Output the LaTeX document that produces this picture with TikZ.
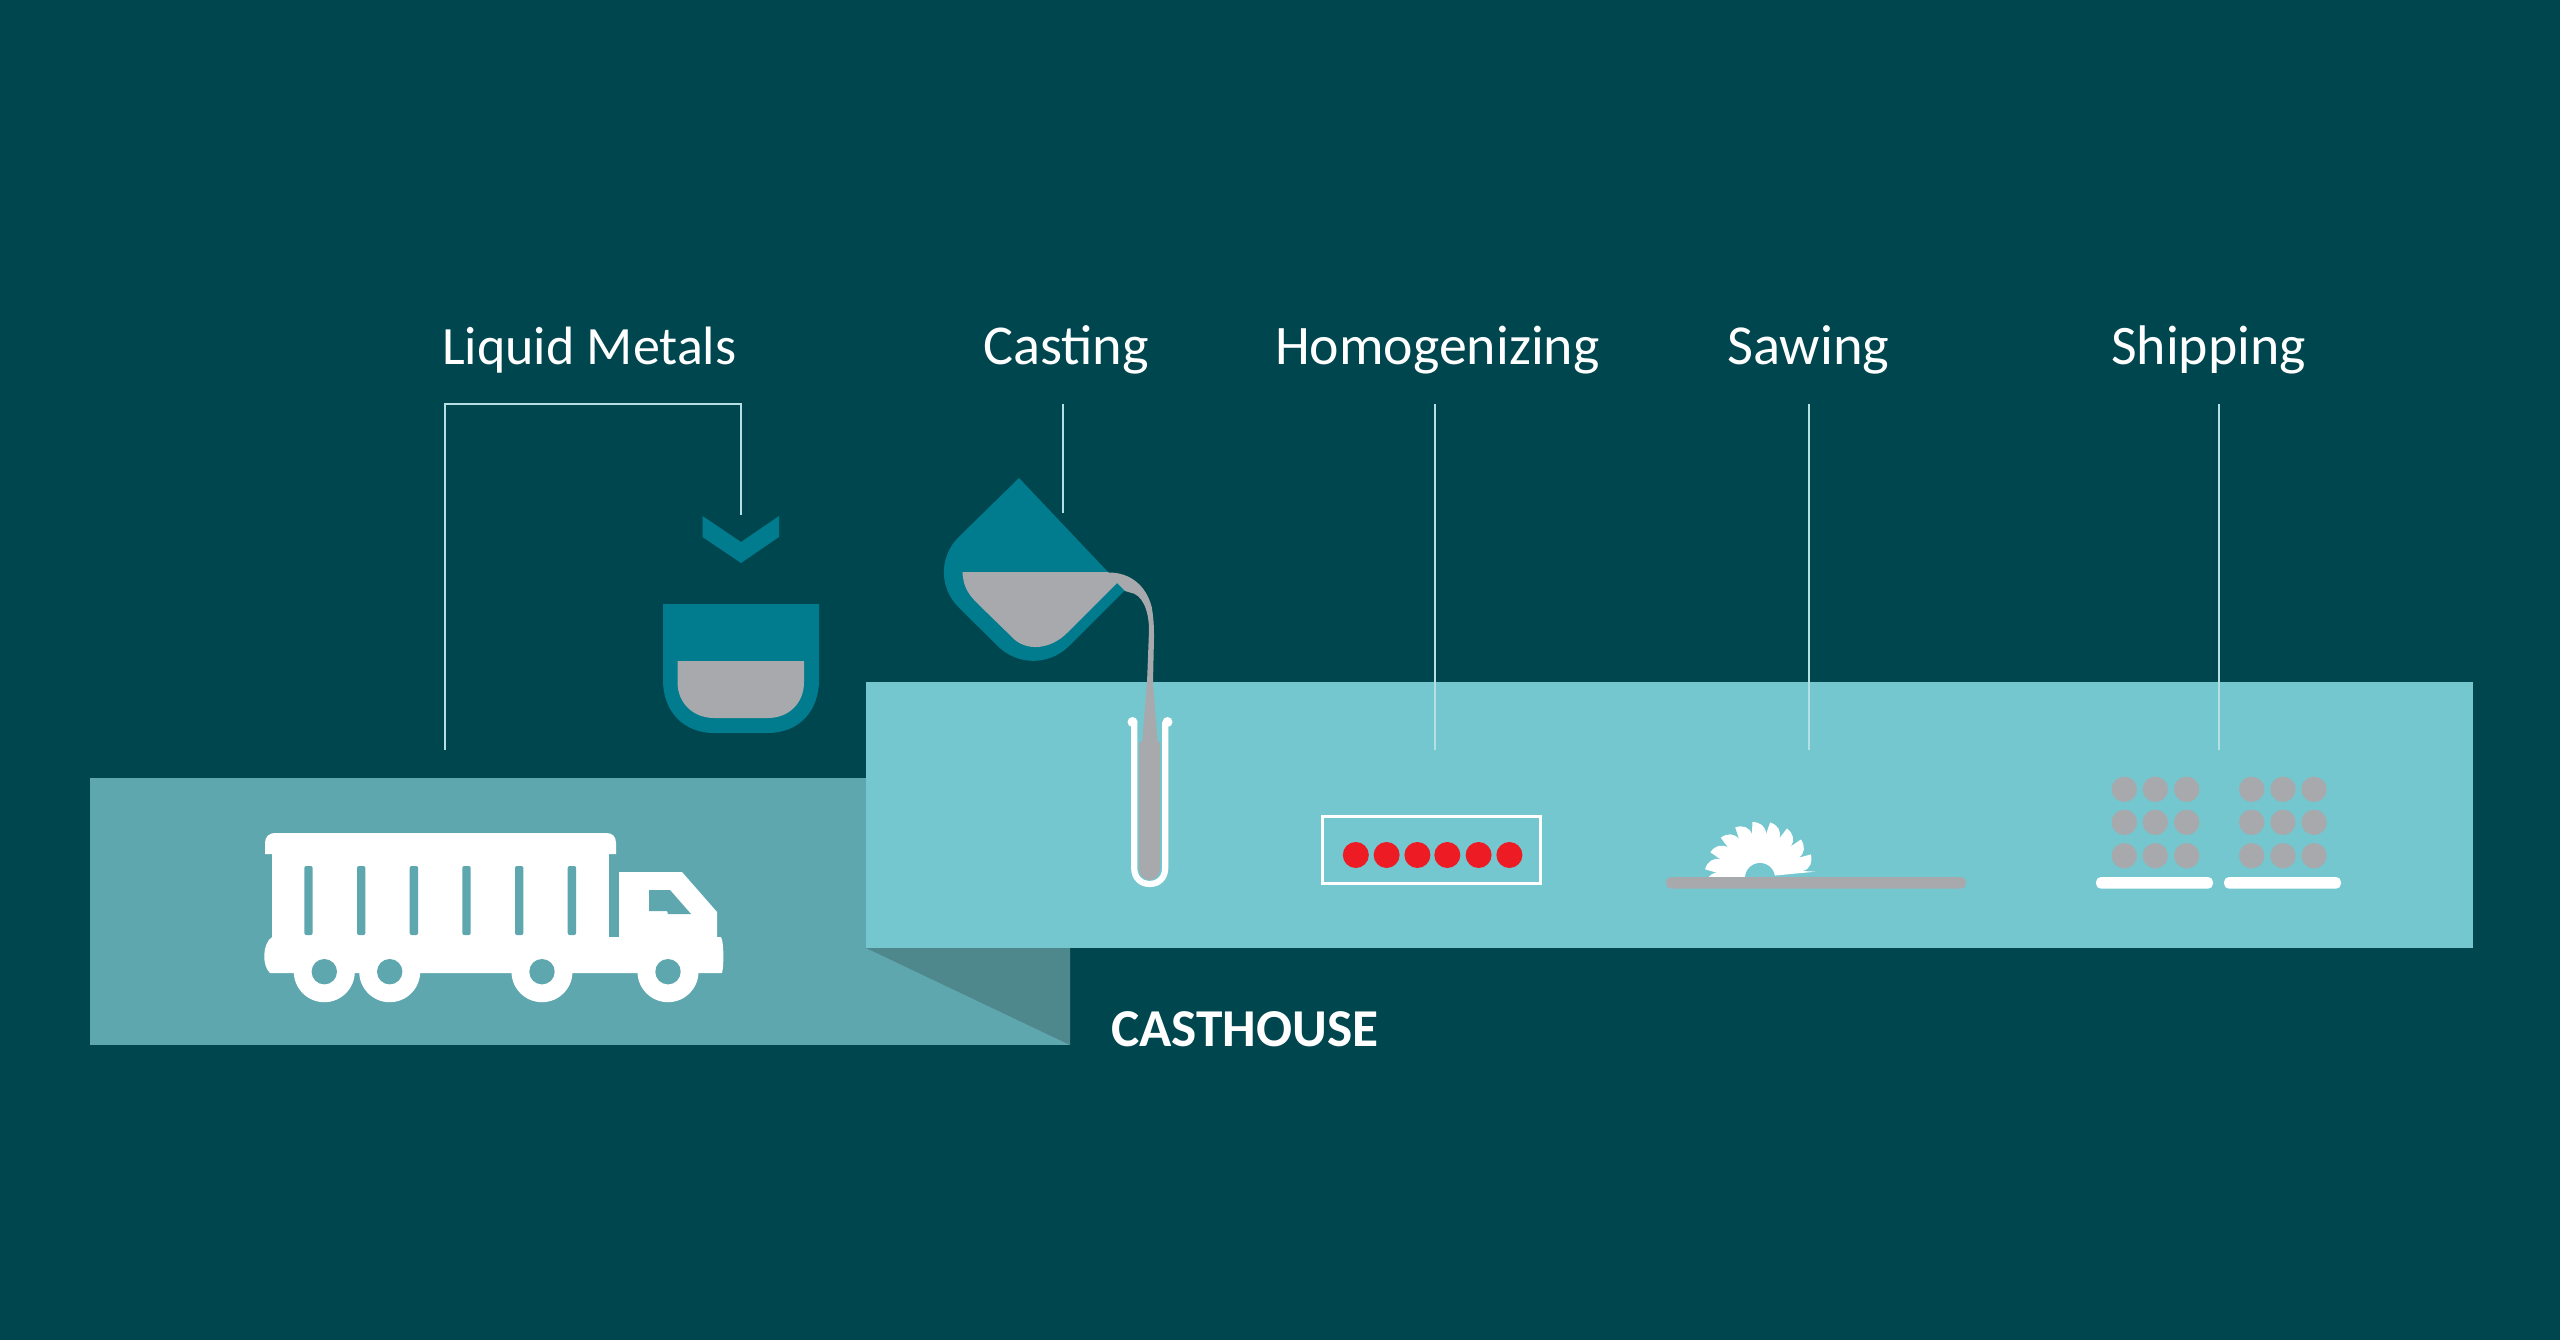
\documentclass[tikz,border=0pt]{standalone}
\usepackage{fontspec}
\setmainfont{Carlito}
\definecolor{bgc}{HTML}{00464F}
\definecolor{bandL}{HTML}{74C7CF}
\definecolor{bandD}{HTML}{5FA7AF}
\definecolor{foldc}{HTML}{4F888C}
\definecolor{cupc}{HTML}{007C8E}
\definecolor{greyc}{HTML}{A7A9AC}
\definecolor{redc}{HTML}{ED1C24}
\definecolor{linec}{HTML}{B5E0E3}
\tikzset{
  label text/.style={text=white,inner sep=0pt,anchor=base west,font=\fontsize{#1}{60}\selectfont},
  title text/.style={text=white,inner sep=0pt,anchor=base west,font=\fontsize{53.3}{60}\selectfont\bfseries},
  leader/.style={draw=linec,line width=1.15pt},
  whitefill/.style={fill=white},
  slot/.style={fill=bandD,rounded corners=2pt},
}
\begin{document}
\begin{tikzpicture}[x=1pt,y=-1pt]
\useasboundingbox (0,0) rectangle (2560,1340);
\fill[bgc] (0,0) rectangle (2560,1340);
% bands
\fill[bandD] (90,778) rectangle (1070,1045);
\fill[foldc] (866,948) -- (1070,948) -- (1070,1045) -- cycle;
\fill[bandL] (866,682) rectangle (2473,948);
% labels
\node[label text=54] (lm) at (442,364) {Liquid Metals};
\node[label text=56.3] (ca) at (983,364) {Casting};
\node[label text=55.8] (ho) at (1275,364) {Homogenizing};
\node[label text=56.5] (sa) at (1727,364) {Sawing};
\node[label text=55.8] (sh) at (2111,364) {Shipping};
\node[title text] (house) at (1111,1046) {CASTHOUSE};
% leaders
\coordinate (lmA) at (445,750);
\coordinate (lmB) at (741,515);
\coordinate (caA) at (1063,404);
\coordinate (caB) at (1063,513);
\coordinate (hoA) at (1435,404);
\coordinate (hoB) at (1435,750);
\coordinate (saA) at (1809,404);
\coordinate (saB) at (1809,750);
\coordinate (shA) at (2219,404);
\coordinate (shB) at (2219,750);
\draw[leader] (lmA) |- (lmB |- caA) -- (lmB);
\draw[leader] (caA) -- (caB);
\draw[leader] (hoA) -- (hoB);
\draw[leader] (saA) -- (saB);
\draw[leader] (shA) -- (shB);
% chevron
\fill[cupc] (702.5,516) -- (741,542) -- (779,516) -- (779,537) -- (741,563) -- (702.5,537) -- cycle;
% cup
\fill[cupc] (663,604) -- (819,604) -- (819,680) .. controls (819,712) and (798,733) .. (768,733) -- (714,733) .. controls (684,733) and (663,712) .. (663,680) -- cycle;
\fill[greyc] (677.5,661) -- (804,661) -- (804,682) .. controls (804,704) and (788,718) .. (768,718) -- (714,718) .. controls (694,718) and (677.5,704) .. (677.5,682) -- cycle;
% jug
\fill[cupc] (1019,478) -- (1125,590) [rounded corners=50pt] -- (1033.5,681.5) -- (923,572) [sharp corners] -- cycle;
% jug liquid
\fill[greyc] (962.5,572) -- (1108,572) -- (1117,583) -- (1067,633) .. controls (1052,648) and (1030,652) .. (1015,640) -- (978,604) .. controls (970,596) and (963,588) .. (962.5,572) -- cycle;
% stream
\fill[greyc] (1100,572.5) -- (1110,572.5) .. controls (1130,573) and (1146,585) .. (1151.7,607) .. controls (1154,620) and (1154,630) .. (1154,637) -- (1153,683) -- (1158,747) -- (1141.7,747) -- (1147,683) -- (1149,630) .. controls (1149,610) and (1142,594) .. (1130,592.5) -- (1125,591) -- (1117,583) -- cycle;
% tube
\fill[greyc] (1139,742) -- (1160,742) -- (1160,868) .. controls (1160,876) and (1155,880) .. (1149.5,880) .. controls (1144,880) and (1139,876) .. (1139,868) -- cycle;
\draw[white,line width=6.2pt] (1134.2,722) -- (1134.2,868) .. controls (1134.2,878) and (1141,884) .. (1149.7,884) .. controls (1158.5,884) and (1165.2,878) .. (1165.2,868) -- (1165.2,722);
\fill[white] (1132.5,722) circle (5);
\fill[white] (1167.5,722) circle (5);
% truck
\fill[whitefill] (265,854) -- (265,843) .. controls (265,836) and (270,833) .. (275,833) -- (606,833) .. controls (612,833) and (616,836) .. (616,843) -- (616,854) -- cycle;
\fill[whitefill] (272,854) rectangle (609,940);
\fill[whitefill] (619,940) -- (619,872) -- (682,872) -- (717,912) -- (717,940) -- cycle;
\fill[whitefill] (272,937) -- (721,937) .. controls (724,942) and (724,966) .. (722,973) -- (270,973) .. controls (262,966) and (262,944) .. (272,937) -- cycle;
\foreach \sx in {304.3,357,409.7,462.3,515,567.7}
  \fill[slot] (\sx,866) rectangle (\sx+8.4,935);
\fill[bandD] (649,890) -- (670,890) -- (691,914) -- (668,914) -- (667,911) -- (649,911) -- cycle;
\foreach \wx in {324.3,389.7,542,668}{
  \fill[white] (\wx,971.7) circle (30.5);
}
\foreach \wx in {324.3,389.7,542,668}{
  \fill[bandD] (\wx,971.7) circle (12.7);
}
% homogenizing
\draw[white,line width=3pt] (1322.5,816) rectangle (1540,883);
\foreach \dx in {1355.8,1386.6,1417.4,1447.3,1478.6,1509.4}
  \fill[redc] (\dx,855) circle (13);
% saw
\begin{scope}
\clip (1690,810) rectangle (1830,876);
\begin{scope}[shift={(1760,877)}]
\fill[white] (169.5:53)
  \foreach \a in {169.5,188,...,350}{
    .. controls ({\a+8}:55) and ({\a+15}:51) .. ({\a+16}:43) -- ({\a+18.5}:55.5)
  } -- (0,0) -- cycle;
\fill[bandL] (0,1) circle (15);
\end{scope}
\end{scope}
\fill[greyc,rounded corners=5pt] (1666,877) rectangle (1966,888.7);
% shipping
\foreach \dx in {2124.3,2155.3,2186.7,2251.7,2283,2314}
  \foreach \dy in {789.3,822.3,855.7}
    \fill[greyc] (\dx,\dy) circle (12.7);
\fill[white,rounded corners=5pt] (2096,877) rectangle (2213,888.7);
\fill[white,rounded corners=5pt] (2224,877) rectangle (2341,888.7);
\end{tikzpicture}
\end{document}
